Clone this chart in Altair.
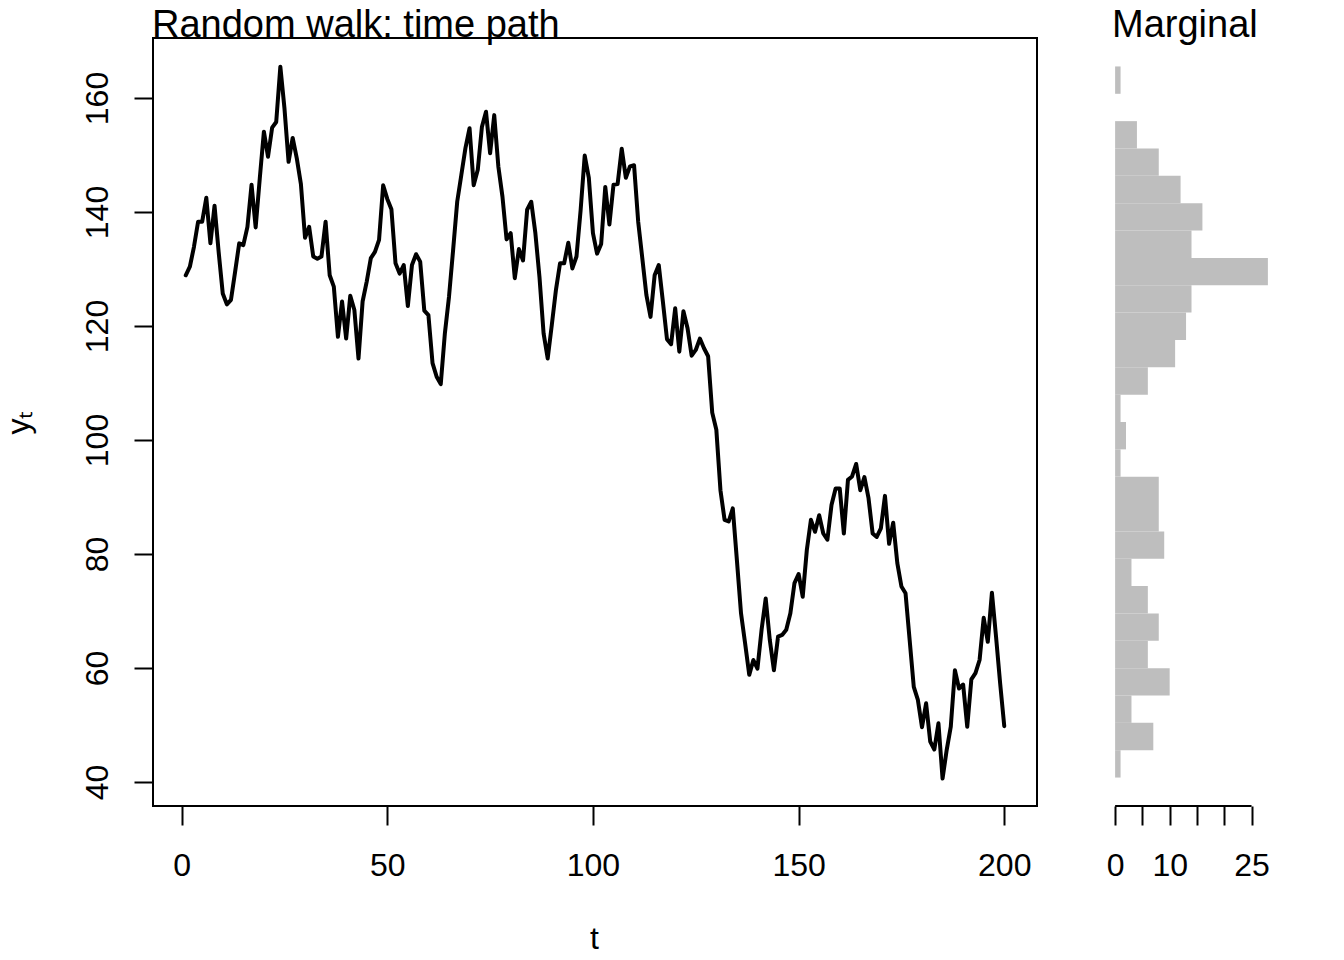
import altair as alt
import pandas as pd

# ---------------- data ----------------
t_values = list(range(1, 201))
y_values = [
    128.9, 130.4, 133.9, 138.3, 138.3, 142.5, 134.5, 141.1, 133.0, 125.7,
    123.8, 124.6, 129.5, 134.5, 134.2, 137.4, 144.8, 137.3, 145.9, 154.1,
    149.7, 154.8, 155.8, 165.5, 158.2, 148.8, 153.0, 149.4, 144.9, 135.5,
    137.4, 132.2, 131.8, 132.2, 138.3, 128.9, 126.9, 118.1, 124.3, 117.8,
    125.3, 122.8, 114.3, 124.3, 127.8, 131.9, 133.0, 135.1, 144.7, 142.3,
    140.5, 131.0, 129.2, 130.7, 123.5, 130.7, 132.6, 131.3, 122.7, 121.9,
    113.5, 111.1, 109.8, 118.7, 125.1, 133.3, 141.8, 146.5, 151.2, 154.7,
    144.7, 147.4, 154.9, 157.6, 150.3, 157.0, 148.0, 142.7, 135.2, 136.3,
    128.4, 133.5, 131.5, 140.4, 141.8, 136.3, 128.6, 118.7, 114.3, 120.2,
    126.3, 131.0, 131.0, 134.6, 130.1, 132.2, 140.3, 149.9, 146.0, 136.3,
    132.7, 134.4, 144.4, 137.8, 144.8, 144.9, 151.1, 146.0, 148.0, 148.2,
    138.3, 131.9, 125.4, 121.6, 128.9, 130.7, 124.3, 117.7, 116.8, 123.1,
    115.5, 122.6, 119.6, 114.8, 115.8, 117.8, 116.1, 114.7, 104.8, 101.8,
    91.2, 86.0, 85.7, 88.0, 78.9, 69.6, 64.3, 58.8, 61.4, 59.9,
    66.7, 72.2, 64.9, 59.6, 65.5, 65.8, 66.7, 69.6, 74.9, 76.5,
    72.5, 80.7, 86.0, 83.9, 86.8, 83.6, 82.5, 88.6, 91.5, 91.5,
    83.6, 93.0, 93.6, 95.8, 91.2, 93.5, 89.8, 83.6, 83.0, 84.5,
    90.2, 81.8, 85.5, 78.4, 74.3, 73.1, 64.9, 56.7, 54.4, 49.6,
    53.8, 47.1, 45.7, 50.3, 40.6, 45.6, 49.7, 59.6, 56.4, 57.1,
    49.7, 58.0, 59.1, 61.4, 68.8, 64.6, 73.2, 65.5, 57.3, 49.8,
]

# marginal histogram: bars (bins of width 5 from 40 to 170), bottom to top
hist_bin_index = list(range(26))
hist_counts = [1, 7, 3, 10, 6, 8, 6, 3, 9, 8, 8, 1, 2, 1, 6, 11, 13, 14, 28, 14,
               16, 12, 8, 4, 0, 1]

x_ticks = [0, 50, 100, 150, 200]
y_ticks = [40, 60, 80, 100, 120, 140, 160]
hist_ticks = [0, 5, 10, 15, 20, 25]
hist_labels_shown = [0, 10, 25]
main_title = "Random walk: time path"
side_title = "Marginal"
x_title = "t"
y_title = "yₜ"

# ---------------- layout constants ----------------
FONT = "Liberation Sans"
W_MAIN = 884
GAP = 72
W_HIST = 165
W_ALL = W_MAIN + GAP + W_HIST
H = 768

line_df = pd.DataFrame({"t": t_values, "y": y_values})
hist_df = pd.DataFrame({
    "bin": hist_bin_index,
    "bin_end": [b + 1 for b in hist_bin_index],
    "count": hist_counts,
})

axis_common = dict(
    grid=False, domain=False, ticks=True, tickSize=19, tickWidth=2,
    tickColor="black", labelFont=FONT, labelFontSize=32, labelColor="black",
    labelFlush=False, labelOverlap=False, titleFont=FONT, titleFontSize=32,
    titleFontWeight="normal", titleColor="black",
)

# ---------------- main panel ----------------
box = alt.Chart(pd.DataFrame({"k": [0]})).mark_rect(
    fill="transparent", stroke="black", strokeWidth=2
).encode(
    x=alt.value(0), x2=alt.value(W_MAIN), y=alt.value(0), y2=alt.value(H)
)

line = alt.Chart(line_df).mark_line(
    color="black", strokeWidth=4, strokeJoin="round", strokeCap="round"
).encode(
    x=alt.X(
        "t:Q",
        scale=alt.Scale(domain=[-6.96, 207.96], range=[0, W_MAIN], nice=False, zero=False),
        axis=alt.Axis(
            values=x_ticks, format="d", labelAngle=0, labelPadding=50,
            labelBaseline="alphabetic", title=x_title, titleX=441, titleY=142,
            titleAngle=0, titleAlign="center", titleBaseline="alphabetic",
            orient="bottom", **axis_common,
        ),
    ),
    y=alt.Y(
        "y:Q",
        scale=alt.Scale(domain=[35.79, 170.53], nice=False, zero=False),
        axis=alt.Axis(
            values=y_ticks, format="d", labelAngle=270, labelAlign="center",
            labelBaseline="alphabetic", labelPadding=27, title=y_title,
            titleX=-125, titleY=H / 2, titleAngle=270, titleAlign="center",
            titleBaseline="alphabetic", orient="left", **axis_common,
        ),
    ),
)

main = alt.layer(box, line)

# ---------------- marginal histogram ----------------
hx_scale = alt.Scale(domain=[-1.12, 29.12], range=[W_MAIN + GAP, W_ALL], nice=False, zero=False)
hy_scale = alt.Scale(domain=[-1.04, 27.04], nice=False, zero=False)
label_expr = "indexof([" + ",".join(str(v) for v in hist_labels_shown) + "], datum.value) >= 0 ? datum.label : ''"
hist_axis = alt.Axis(
    values=hist_ticks, format="d", labelAngle=0, labelPadding=50,
    labelBaseline="alphabetic", labelExpr=label_expr, title="",
    orient="bottom", **axis_common,
)

bars = alt.Chart(hist_df).mark_rect(color="#BEBEBE").encode(
    x=alt.X("count:Q", scale=hx_scale, axis=hist_axis, title=""),
    x2=alt.datum(0),
    y=alt.Y("bin:Q", scale=hy_scale, axis=None),
    y2="bin_end:Q",
)

hist_axis_line = alt.Chart(
    pd.DataFrame({"count": [hist_ticks[0]], "count_end": [hist_ticks[-1]]})
).mark_rule(color="black", strokeWidth=2).encode(
    x=alt.X("count:Q", scale=hx_scale, axis=hist_axis, title=""),
    x2="count_end:Q",
    y=alt.value(H),
)

hist = alt.layer(bars, hist_axis_line)

# ---------------- titles ----------------
title_main = alt.Chart(pd.DataFrame({"label": [main_title]})).mark_text(
    align="left", baseline="alphabetic", font=FONT, fontSize=38, color="black"
).encode(text="label:N", x=alt.value(-1), y=alt.value(-1.5))

title_side = alt.Chart(pd.DataFrame({"label": [side_title]})).mark_text(
    align="left", baseline="alphabetic", font=FONT, fontSize=38, color="black"
).encode(text="label:N", x=alt.value(W_MAIN + GAP + 3), y=alt.value(-1.5))

chart = alt.layer(main, hist, title_main, title_side).resolve_scale(
    x="independent", y="independent"
).properties(
    width=W_ALL,
    height=H,
    autosize=alt.AutoSizeParams(type="none"),
    padding={"left": 145, "top": 30, "right": 1328 - 145 - W_ALL, "bottom": 944 - 30 - H},
    background="white",
).configure_view(stroke="transparent")

chart.save("out.html", embed_options={"renderer": "svg", "actions": False})
